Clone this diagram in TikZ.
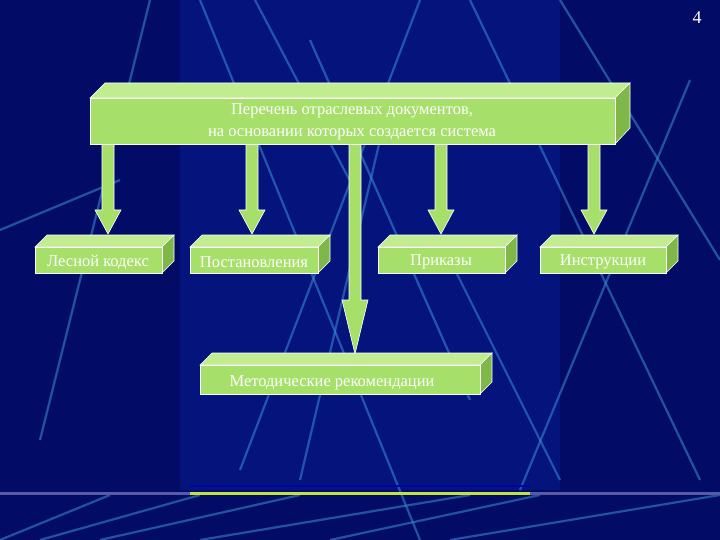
\documentclass[tikz,border=0pt]{standalone}
\usepackage{fontspec}
\setmainfont{Liberation Serif}
\begin{document}
\begin{tikzpicture}[x=1pt,y=-1pt,
  front/.style={fill=boxg,draw=white,line width=0.6pt},
  topf/.style={fill=boxl,draw=white,line width=0.6pt},
  sidef/.style={fill=boxd,draw=white,line width=0.6pt},
  lbl/.style={text=white,font=\fontsize{16.5}{22}\selectfont,align=center},
  arr/.style={fill=boxg,draw=white,line width=0.6pt},
  bgl/.style={draw=lblue,line width=2.2pt,opacity=0.55}]
\definecolor{boxg}{HTML}{A6E06A}
\definecolor{boxl}{HTML}{C2EC90}
\definecolor{boxd}{HTML}{7FB848}
\definecolor{lblue}{HTML}{3C8CD8}
\definecolor{bgdark}{HTML}{020C66}
\definecolor{bgmid}{HTML}{061A8C}
\useasboundingbox (0,0) rectangle (720,540);
\fill[bgdark] (0,0) rectangle (720,540);
\fill[bgmid,opacity=0.6] (180,0) rectangle (560,490);
% background lines
\draw[bgl] (150,0) -- (40,440);
\draw[bgl] (200,0) -- (420,540);
\draw[bgl] (255,0) -- (360,200);
\draw[bgl] (310,40) -- (470,400);
\draw[bgl] (420,0) -- (240,470);
\draw[bgl] (560,0) -- (720,260);
\draw[bgl] (470,0) -- (700,480);
\draw[bgl] (690,80) -- (520,490);
\draw[bgl] (0,230) -- (120,180);
\draw[bgl] (450,260) -- (560,480);
\draw[bgl] (380,140) -- (300,480);
\draw[bgl] (0,540) -- (110,495);
\draw[bgl] (40,540) -- (200,495);
\draw[bgl] (100,540) -- (300,495);
\draw[bgl] (200,540) -- (470,495);
\draw[bgl] (330,540) -- (540,495);
\draw[bgl] (450,540) -- (720,495);
% bottom rule
\fill[gray!70!blue] (0,492) rectangle (720,495);
\fill[yellow!70!green!80!white] (190,492) rectangle (530,495);
\fill[blue!70!black] (190,485) rectangle (530,487);
\node[text=white,font=\fontsize{18}{20}\selectfont] (num) at (697,18) {4};
% arrows
\foreach \nm/\xx/\ya/\yh/\yb in {a1/108/144/210/234, a2/252/144/210/234, a3/441/144/210/234, a4/594/144/210/234, a5/355/144/300/354}{
  \draw[arr] (\xx-6,\ya) -- (\xx-6,\yh) -- (\xx-13,\yh) -- (\xx,\yb) -- (\xx+13,\yh) -- (\xx+6,\yh) -- (\xx+6,\ya) -- cycle;
}
% top box
\fill[topf] (90,98) -- (105,83) -- (630,83) -- (615,98) -- cycle;
\fill[sidef] (615,98) -- (630,83) -- (630,128) -- (615,144) -- cycle;
\draw[front] (90,98) rectangle (615,144);
\node[lbl] (top) at (352,122) {Перечень отраслевых документов,\\на основании которых создается система};
% small boxes
\foreach \nm/\xa/\xb/\ya/\yb/\txt in {b1/35/162/247/273/{Лесной кодекс}, b2/190/318/247/273/{Постановления}, b3/378/505/247/273/{Приказы}, b4/540/666/247/273/{Инструкции}, b5/200/480/365/394/{Методические рекомендации}}{
  \fill[topf] (\xa,\ya) -- (\xa+12,\ya-12) -- (\xb+12,\ya-12) -- (\xb,\ya) -- cycle;
  \fill[sidef] (\xb,\ya) -- (\xb+12,\ya-12) -- (\xb+12,\yb-12) -- (\xb,\yb) -- cycle;
  \draw[front] (\xa,\ya) rectangle (\xb,\yb);
}
\node[lbl] (t1) at (98,262) {Лесной кодекс};
\node[lbl] (t2) at (254,262) {Постановления};
\node[lbl] (t3) at (441,262) {Приказы};
\node[lbl] (t4) at (603,262) {Инструкции};
\node[lbl] (t5) at (332,383) {Методические рекомендации};
\end{tikzpicture}
\end{document}
